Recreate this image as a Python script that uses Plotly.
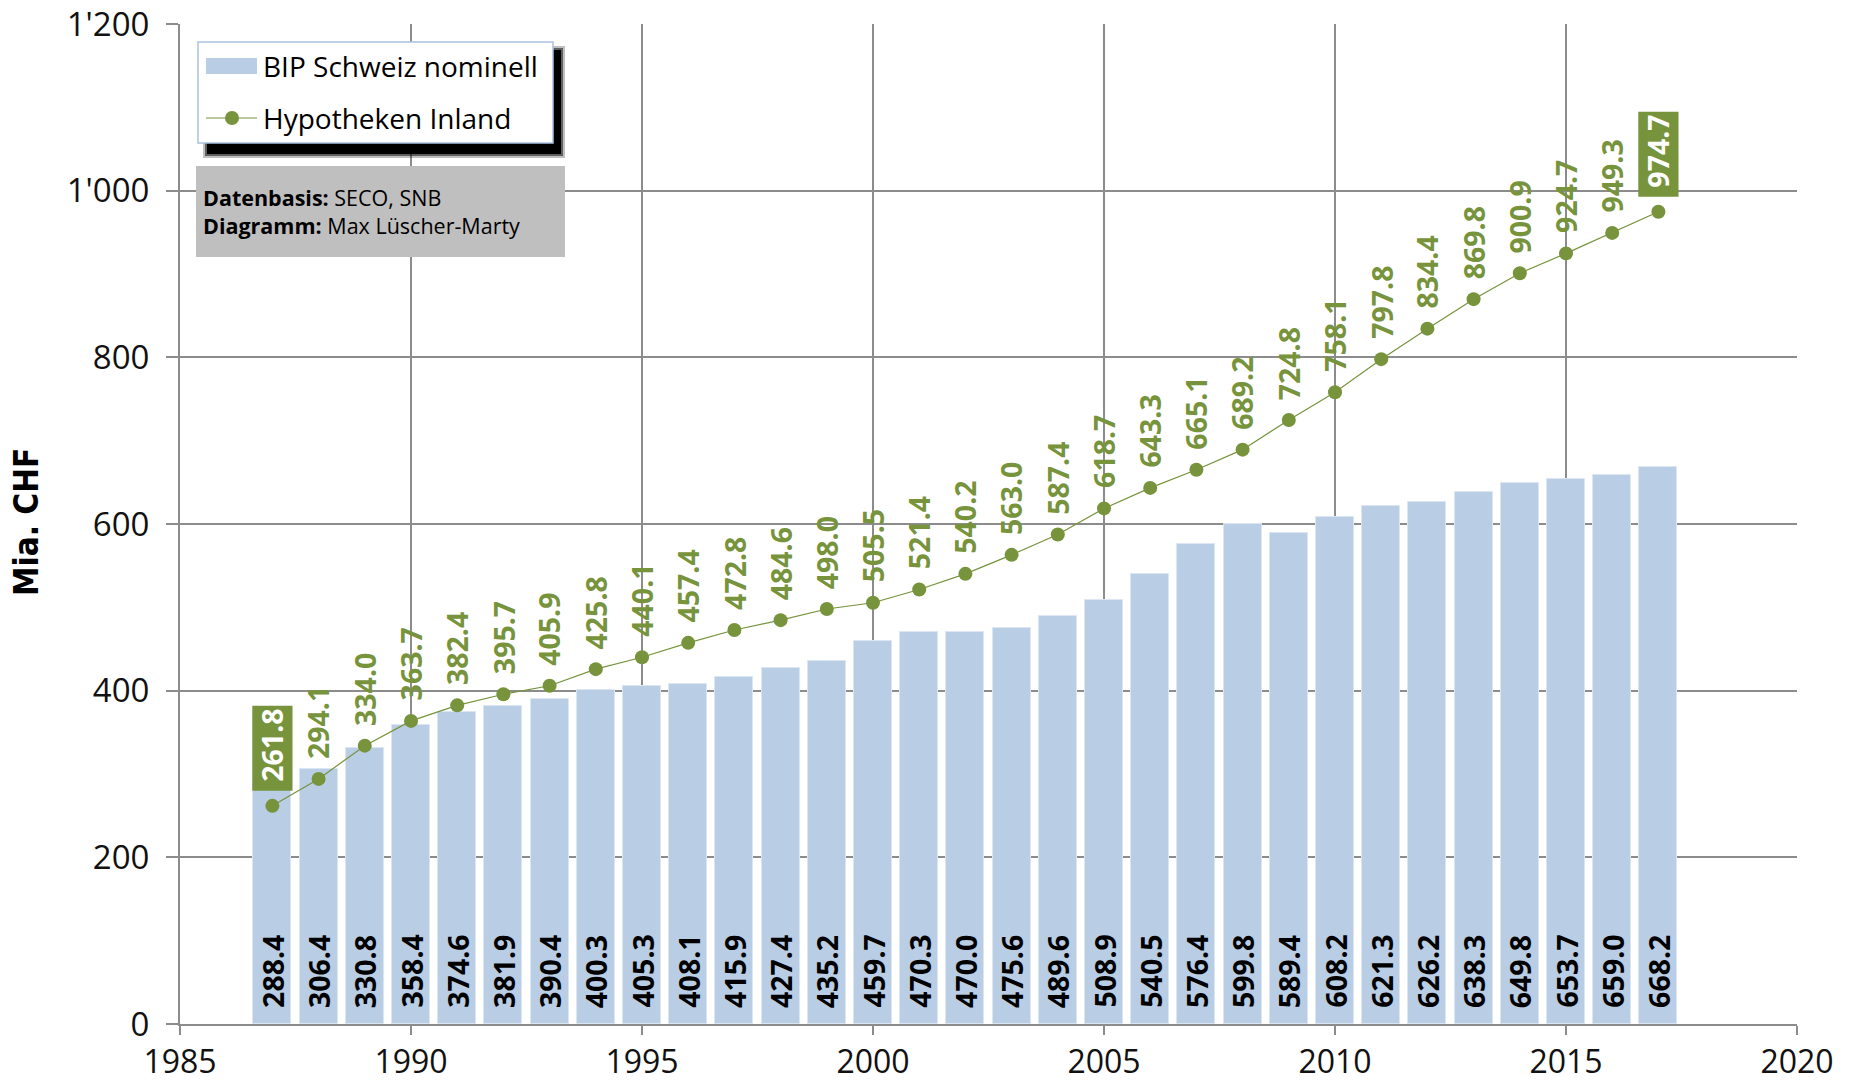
import plotly.graph_objects as go

# Swiss nominal GDP vs. domestic mortgage lending, 1987-2017 (bn CHF)
years = list(range(1987, 2018))
bip_nominell = [288.4, 306.4, 330.8, 358.4, 374.6, 381.9, 390.4, 400.3, 405.3, 408.1,
                415.9, 427.4, 435.2, 459.7, 470.3, 470.0, 475.6, 489.6, 508.9, 540.5,
                576.4, 599.8, 589.4, 608.2, 621.3, 626.2, 638.3, 649.8, 653.7, 659.0,
                668.2]
hypotheken = [261.8, 294.1, 334.0, 363.7, 382.4, 395.7, 405.9, 425.8, 440.1, 457.4,
              472.8, 484.6, 498.0, 505.5, 521.4, 540.2, 563.0, 587.4, 618.7, 643.3,
              665.1, 689.2, 724.8, 758.1, 797.8, 834.4, 869.8, 900.9, 924.7, 949.3,
              974.7]

series_names = ["BIP Schweiz nominell", "Hypotheken Inland"]
y_title = "Mia. CHF"
source_lines = ["<b>Datenbasis:</b> SECO, SNB", "<b>Diagramm:</b> Max Lüscher-Marty"]

BAR_COLOR = "#B9CDE5"
GREEN = "#77933C"
GRID = "#8C8C8C"
FONT = "Open Sans"
LABEL_SIZE = 28.5

W, H = 1860, 1085
ML, MR, MT, MB = 180, 63, 24, 61
PW, PH = W - ML - MR, H - MT - MB


def px(xp):
    return (xp - ML) / PW


def py(yp):
    return (H - MB - yp) / PH


fig = go.Figure()

fig.add_trace(go.Bar(
    x=years, y=bip_nominell, width=0.82, name=series_names[0],
    marker=dict(color=BAR_COLOR, line=dict(color="#DCE6F2", width=1)),
    hoverinfo="x+y",
))

fig.add_trace(go.Scatter(
    x=years, y=hypotheken, name=series_names[1], mode="lines+markers",
    line=dict(color=GREEN, width=1.2),
    marker=dict(color=GREEN, size=14),
    hoverinfo="x+y",
))

annotations = []
shapes = []

# GDP value labels, written upward from the foot of each bar
for yr, v in zip(years, bip_nominell):
    annotations.append(dict(
        x=yr, y=0, xref="x", yref="y", text=f"<b>{v:.1f}</b>", showarrow=False,
        textangle=-90, yanchor="bottom", xanchor="center", yshift=14,
        font=dict(family=FONT, size=LABEL_SIZE, color="black"),
    ))

# Mortgage value labels above each marker; first and last ones highlighted
last = len(years) - 1
for i, (yr, v) in enumerate(zip(years, hypotheken)):
    boxed = i in (0, last)
    if boxed:
        shapes.append(dict(
            type="rect", xref="x", yref="y", ysizemode="pixel", yanchor=v,
            x0=yr - 0.435, x1=yr + 0.435, y0=15, y1=100,
            fillcolor=GREEN, line=dict(width=0), layer="above",
        ))
    annotations.append(dict(
        x=yr, y=v, xref="x", yref="y", text=f"<b>{v:.1f}</b>", showarrow=False,
        textangle=-90, yanchor="bottom", xanchor="center",
        yshift=22 if boxed else 18,
        font=dict(family=FONT, size=LABEL_SIZE, color="white" if boxed else GREEN),
    ))

# Legend drawn by hand: soft black drop shadow, white box, samples and labels
for grow, op in [(4, 0.25), (2, 0.5), (0, 1.0)]:
    shapes.append(dict(
        type="rect", xref="paper", yref="paper",
        x0=px(207 - grow), x1=px(561 + grow), y0=py(154 + grow), y1=py(50 - grow),
        fillcolor="black", opacity=op, line=dict(width=0), layer="above",
    ))
shapes.append(dict(
    type="rect", xref="paper", yref="paper",
    x0=px(198), x1=px(553), y0=py(143), y1=py(42),
    fillcolor="white", line=dict(color="#A9C1E4", width=1.5), layer="above",
))
shapes.append(dict(
    type="rect", xref="paper", yref="paper",
    x0=px(206), x1=px(257), y0=py(74), y1=py(58),
    fillcolor=BAR_COLOR, line=dict(width=0), layer="above",
))
shapes.append(dict(
    type="line", xref="paper", yref="paper",
    x0=px(206), x1=px(257), y0=py(118), y1=py(118),
    line=dict(color=GREEN, width=1.2), layer="above",
))
shapes.append(dict(
    type="circle", xref="paper", yref="paper",
    x0=px(225), x1=px(239), y0=py(125), y1=py(111),
    fillcolor=GREEN, line=dict(width=0), layer="above",
))
for name, yc in zip(series_names, [66, 118]):
    annotations.append(dict(
        x=px(261), y=py(yc), xref="paper", yref="paper", text=name,
        showarrow=False, xanchor="left", yanchor="middle",
        font=dict(family=FONT, size=28, color="black"),
    ))

# Source box
shapes.append(dict(
    type="rect", xref="paper", yref="paper",
    x0=px(196), x1=px(565), y0=py(257), y1=py(166),
    fillcolor="#BFBFBF", line=dict(width=0), layer="above",
))
annotations.append(dict(
    x=px(201), y=py(211), xref="paper", yref="paper",
    text="<br>".join(source_lines), showarrow=False, align="left",
    xanchor="left", yanchor="middle",
    font=dict(family=FONT, size=21.5, color="black"),
))

# Y axis title
annotations.append(dict(
    x=px(26), y=py(522), xref="paper", yref="paper",
    text=f"<b>{y_title}</b>", showarrow=False, textangle=-90,
    xanchor="center", yanchor="middle",
    font=dict(family="DejaVu Sans Condensed, Liberation Sans Narrow, Arial Narrow",
              size=33, color="black"),
))

fig.update_layout(
    width=W, height=H,
    margin=dict(l=ML, r=MR, t=MT, b=MB, pad=0, autoexpand=False),
    paper_bgcolor="white", plot_bgcolor="white",
    showlegend=False,
    separators=".'",
    font=dict(family=FONT, color="#111111"),
    bargap=0,
    annotations=annotations,
    shapes=shapes,
)

fig.update_xaxes(
    range=[1985, 2020], tick0=1985, dtick=5, automargin=False,
    showgrid=True, gridcolor=GRID, gridwidth=2,
    showline=True, linecolor=GRID, linewidth=2,
    ticks="outside", ticklen=9, tickwidth=2, tickcolor=GRID,
    ticklabeloverflow="allow",
    tickfont=dict(family=FONT, size=32, color="#111111"),
    zeroline=False,
)
fig.update_yaxes(
    range=[0, 1200], tick0=0, dtick=200, tickformat=",d", automargin=False,
    showgrid=True, gridcolor=GRID, gridwidth=2,
    showline=True, linecolor=GRID, linewidth=2,
    ticks="outside", ticklen=12, tickwidth=2, tickcolor=GRID,
    ticklabelstandoff=10, ticklabeloverflow="allow",
    tickfont=dict(family=FONT, size=33, color="#111111"),
    zeroline=False,
)

fig.write_html("out.html")
